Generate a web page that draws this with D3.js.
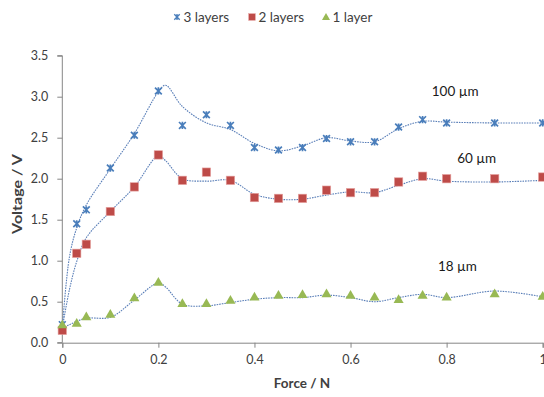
<!DOCTYPE html>
<html>
<head>
<meta charset="utf-8">
<script src="https://cdn.jsdelivr.net/npm/d3@7"></script>
<style>
  body { margin: 0; background: #fff; }
  svg { font-family: Lato, "Open Sans", sans-serif; }
</style>
</head>
<body>
<div id="chart"></div>
<script>
// measured points
const force = [0, 0.03, 0.05, 0.1, 0.15, 0.2, 0.25, 0.3, 0.35, 0.4, 0.45, 0.5, 0.55, 0.6, 0.65, 0.7, 0.75, 0.8, 0.9, 1.0];
const layers3 = [0.22, 1.45, 1.62, 2.13, 2.53, 3.07, 2.65, 2.78, 2.65, 2.38, 2.35, 2.38, 2.49, 2.45, 2.45, 2.63, 2.72, 2.68, 2.68, 2.68];
const layers2 = [0.15, 1.09, 1.20, 1.60, 1.90, 2.29, 1.98, 2.08, 1.98, 1.77, 1.76, 1.76, 1.86, 1.83, 1.83, 1.96, 2.03, 2.00, 2.00, 2.02];
const layers1 = [0.22, 0.24, 0.32, 0.35, 0.55, 0.74, 0.48, 0.48, 0.52, 0.56, 0.58, 0.59, 0.60, 0.58, 0.56, 0.53, 0.58, 0.56, 0.60, 0.57];

// smoothed fit curves
const fitX  = [0, 0.015, 0.03, 0.05, 0.1, 0.15, 0.2, 0.215, 0.25, 0.3, 0.35, 0.4, 0.45, 0.5, 0.55, 0.6, 0.65, 0.7, 0.75, 0.8, 0.9, 1.0];
const fit3  = [0.18, 1.05, 1.40, 1.68, 2.12, 2.55, 3.06, 3.14, 2.88, 2.68, 2.60, 2.43, 2.34, 2.40, 2.50, 2.46, 2.45, 2.61, 2.70, 2.69, 2.68, 2.68];
const fit2  = [0.18, 0.65, 0.99, 1.28, 1.60, 1.90, 2.28, 2.22, 2.00, 1.97, 1.98, 1.81, 1.75, 1.75, 1.80, 1.84, 1.83, 1.92, 2.00, 1.97, 1.96, 1.98];
const fit1  = [0.18, 0.22, 0.26, 0.30, 0.31, 0.52, 0.73, 0.68, 0.47, 0.45, 0.49, 0.53, 0.55, 0.55, 0.58, 0.55, 0.50, 0.55, 0.59, 0.55, 0.63, 0.56];

const xTicks = [0, 0.2, 0.4, 0.6, 0.8, 1];
const yTicks = [0, 0.5, 1.0, 1.5, 2.0, 2.5, 3.0, 3.5];

const seriesNames = ["3 layers", "2 layers", "1 layer"];
const thickness = [
  { text: "100 µm", x: 0.769, y: 3.07 },
  { text: "60 µm",  x: 0.822, y: 2.25 },
  { text: "18 µm",  x: 0.782, y: 0.935 }
];

const W = 544, H = 397;
const blue = "#4a7ebb", red = "#be4b48", green = "#98b954";
const lineCol = "#5a7fb8";
const axisCol = "#868686", textCol = "#404040";

const x = d3.scaleLinear().domain([0, 1]).range([62.3, 542.7]);
const y = d3.scaleLinear().domain([0, 3.5]).range([342.7, 55.7]);

const svg = d3.select('#chart').append('svg')
  .attr('width', W)
  .attr('height', H);

// axes
const gx = svg.append('g')
  .attr('transform', `translate(0,${y(0)})`)
  .call(d3.axisBottom(x).tickValues(xTicks).tickSize(5).tickPadding(7)
    .tickFormat(d => d === 0 || d === 1 ? d3.format('d')(d) : d3.format('.1f')(d)));

const gy = svg.append('g')
  .attr('transform', `translate(${x(0)},0)`)
  .call(d3.axisLeft(y).tickValues(yTicks).tickSize(5).tickPadding(9).tickFormat(d3.format('.1f')));

for (let g of [gx, gy]) {
  g.select('.domain').attr('stroke', axisCol).attr('stroke-width', 1);
  g.selectAll('.tick line').attr('stroke', axisCol);
  g.selectAll('.tick text').attr('fill', textCol).attr('font-size', 12.5).attr('font-family', 'Lato, sans-serif');
}
gy.select('.domain').attr('d', `M-5,${y(3.5)}H0V${y(0)}H-5`);

// fitted curves
const line = d3.line()
  .x(d => x(d[0]))
  .y(d => y(d[1]))
  .curve(d3.curveCatmullRom.alpha(0.5));

for (let f of [fit3, fit2, fit1]) {
  svg.append('path')
    .attr('d', line(fitX.map((v, i) => [v, f[i]])))
    .attr('fill', 'none')
    .attr('stroke', lineCol)
    .attr('stroke-width', 1.1)
    .attr('stroke-dasharray', '1.6,1');
}

// markers
const starPath = 'M-3.4,-3.4L3.4,3.4M-3.4,3.4L3.4,-3.4M0,-3.6V3.6';
const tri = d3.symbol().type(d3.symbolTriangle).size(44)();

function drawMarker(g, k) {
  if (k === 0) {
    g.append('path').attr('d', starPath).attr('stroke', blue).attr('stroke-width', 1.7).attr('fill', 'none');
  } else if (k === 1) {
    g.append('rect').attr('x', -4.2).attr('y', -4.2).attr('width', 8.4).attr('height', 8.4)
      .attr('fill', red).attr('stroke', '#e6a3a1').attr('stroke-width', 0.6);
  } else {
    g.append('path').attr('d', tri).attr('transform', 'translate(0,0.8)').attr('fill', green);
  }
}

[layers3, layers2, layers1].forEach((vals, k) => {
  svg.append('g').selectAll('g')
    .data(vals)
    .enter().append('g')
    .attr('transform', (d, i) => `translate(${x(force[i])},${y(d)})`)
    .each(function() { drawMarker(d3.select(this), k); });
});

// thickness labels
svg.append('g').selectAll('text')
  .data(thickness)
  .enter().append('text')
  .attr('x', d => x(d.x))
  .attr('y', d => y(d.y))
  .attr('dy', '0.35em')
  .attr('font-size', 13.5)
  .attr('fill', '#1a1a1a')
  .text(d => d.text);

// legend
const legendX = [177, 252, 326];
const legend = svg.append('g');
seriesNames.forEach((name, k) => {
  const g = legend.append('g').attr('transform', `translate(${legendX[k]},17)`);
  const m = g.append('g').attr('transform', 'scale(0.8)');
  drawMarker(m, k);
  g.append('text')
    .attr('x', 6.5)
    .attr('dy', '0.35em')
    .attr('font-size', 13.5)
    .attr('fill', textCol)
    .text(name);
});

// axis titles
svg.append('text')
  .attr('x', 302)
  .attr('y', 388)
  .attr('text-anchor', 'middle')
  .attr('font-weight', 'bold')
  .attr('font-size', 13.5)
  .attr('fill', textCol)
  .text('Force / N');

svg.append('text')
  .attr('transform', 'translate(17,194)rotate(-90)')
  .attr('text-anchor', 'middle')
  .attr('dy', '0.35em')
  .attr('font-weight', 'bold')
  .attr('font-size', 14)
  .attr('textLength', 80)
  .attr('lengthAdjust', 'spacingAndGlyphs')
  .attr('fill', textCol)
  .text('Voltage / V');
</script>
</body>
</html>
